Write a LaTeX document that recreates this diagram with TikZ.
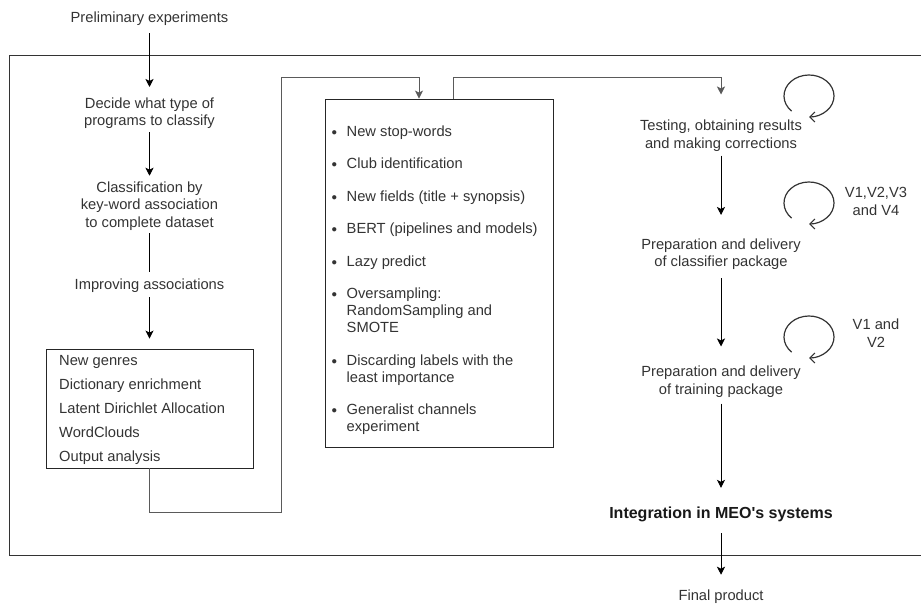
\documentclass[tikz,border=0pt]{standalone}
\usepackage{fontspec}
\setmainfont{Liberation Sans}
\usetikzlibrary{arrows.meta}
\definecolor{txt}{HTML}{333333}
\definecolor{wire}{HTML}{5A5A5A}
% bullet and hanging indent for the experiment list
\newcommand\bul{\makebox[15pt][l]{\raisebox{0.9pt}{\fontsize{11}{11}\selectfont$\bullet$}}}
\newcommand\ind{\hspace*{15pt}}
\begin{document}
\begin{tikzpicture}[x=1pt,y=-1pt,
  lbl/.style={inner sep=0pt, align=center, text=txt, font=\fontsize{14.7}{17.5}\selectfont},
  arr/.style={-{Stealth[length=8pt,width=8pt,inset=2pt]}, line width=0.9pt, black},
  plain/.style={line width=0.9pt, black},
  elbow/.style={-{Stealth[length=8pt,width=8pt,inset=2pt]}, line width=0.9pt, wire},
  box/.style={draw=black!85, line width=0.9pt, inner sep=0pt},
  cycle/.style={-{Straight Barb[length=5pt,width=10pt]}, line width=1.2pt, black!80},
]
\useasboundingbox (0,0) rectangle (921,604);

% frame around the development phase
\draw[line width=0.9pt, black!80] (921,55) -- (9,55) -- (9,555) -- (921,555);

% left column
\node[lbl] (pre) at (149.5,18.3) {Preliminary experiments};
\node[lbl] (decide) at (149.5,113.3) {Decide what type of\\programs to classify};
\node[lbl] (classif) at (149.5,205.8) {Classification by\\key-word association\\to complete dataset};
\node[lbl] (improv) at (149.5,285.3) {Improving associations};
\node[box, minimum width=207pt, minimum height=119pt] (lb) at (149.5,408.5) {};
\node[lbl, align=left, anchor=north west, font=\fontsize{14.7}{24}\selectfont] (lbtext) at (59,355.5)
  {New genres\\Dictionary enrichment\\Latent Dirichlet Allocation\\WordClouds\\Output analysis};

\draw[arr, shorten <=8pt, shorten >=10.5pt] (pre) -- (decide);
\draw[arr, shorten <=3pt, shorten >=5.5pt] (decide) -- (classif);
\draw[plain, shorten <=3pt, shorten >=6.5pt] (classif) -- (improv);
\draw[arr, shorten <=5pt, shorten >=10pt] (improv) -- (lb);

% middle box: experiments
\node[box, minimum width=228pt, minimum height=348pt] (mb) at (439,273) {};
\node[lbl, align=left, anchor=north west, font=\fontsize{14.7}{17}\selectfont] (mbtext) at (331.5,125.5) {%
\bul New stop-words\\[15.5pt]
\bul Club identification\\[15.5pt]
\bul New fields (title + synopsis)\\[15.5pt]
\bul BERT (pipelines and models)\\[15.5pt]
\bul Lazy predict\\[15.5pt]
\bul Oversampling:\\
\ind RandomSampling and\\
\ind SMOTE\\[15.5pt]
\bul Discarding labels with the\\
\ind least importance\\[15.5pt]
\bul Generalist channels\\
\ind experiment};

% bends of the elbow connectors
\coordinate (bendA) at (281,512);
\coordinate (bendB) at (281,77);
\coordinate (bendC) at (721,77);

\draw[elbow] (lb.south) |- (bendA) -- (bendB) -| ([xshift=-20pt]mb.north);

% right column
\node[lbl] (test) at (721,135.8) {Testing, obtaining results\\and making corrections};
\node[lbl] (classpkg) at (721,254.3) {Preparation and delivery\\of classifier package};
\node[lbl] (trainpkg) at (721,381.8) {Preparation and delivery\\of training package};
\node[lbl, font=\fontsize{16}{19}\selectfont\bfseries, text=black!90] (integ) at (721,514.5) {Integration in MEO\textquotesingle s systems};
\node[lbl] (final) at (721,596.3) {Final product};

\draw[elbow, shorten >=25.5pt] ([xshift=14pt]mb.north) |- (bendC) -- (test);
\draw[arr, shorten <=4pt, shorten >=23.5pt] (test) -- (classpkg);
\draw[arr, shorten <=8pt, shorten >=19.5pt] (classpkg) -- (trainpkg);
\draw[arr, shorten <=6pt, shorten >=19pt] (trainpkg) -- (integ);
\draw[arr, shorten <=11pt, shorten >=14.5pt] (integ) -- (final);

% iteration loops and version labels
\draw[cycle] (809,96) ++(134:25 and 21) arc[start angle=134, end angle=450, x radius=25, y radius=21];
\draw[cycle] (809,203) ++(134:25 and 21) arc[start angle=134, end angle=450, x radius=25, y radius=21];
\draw[cycle] (809,337) ++(134:25 and 21) arc[start angle=134, end angle=450, x radius=25, y radius=21];
\node[lbl] (vfour) at (876,201.3) {V1,V2,V3\\and V4};
\node[lbl] (vtwo) at (876,333.3) {V1 and\\V2};
\end{tikzpicture}
\end{document}
